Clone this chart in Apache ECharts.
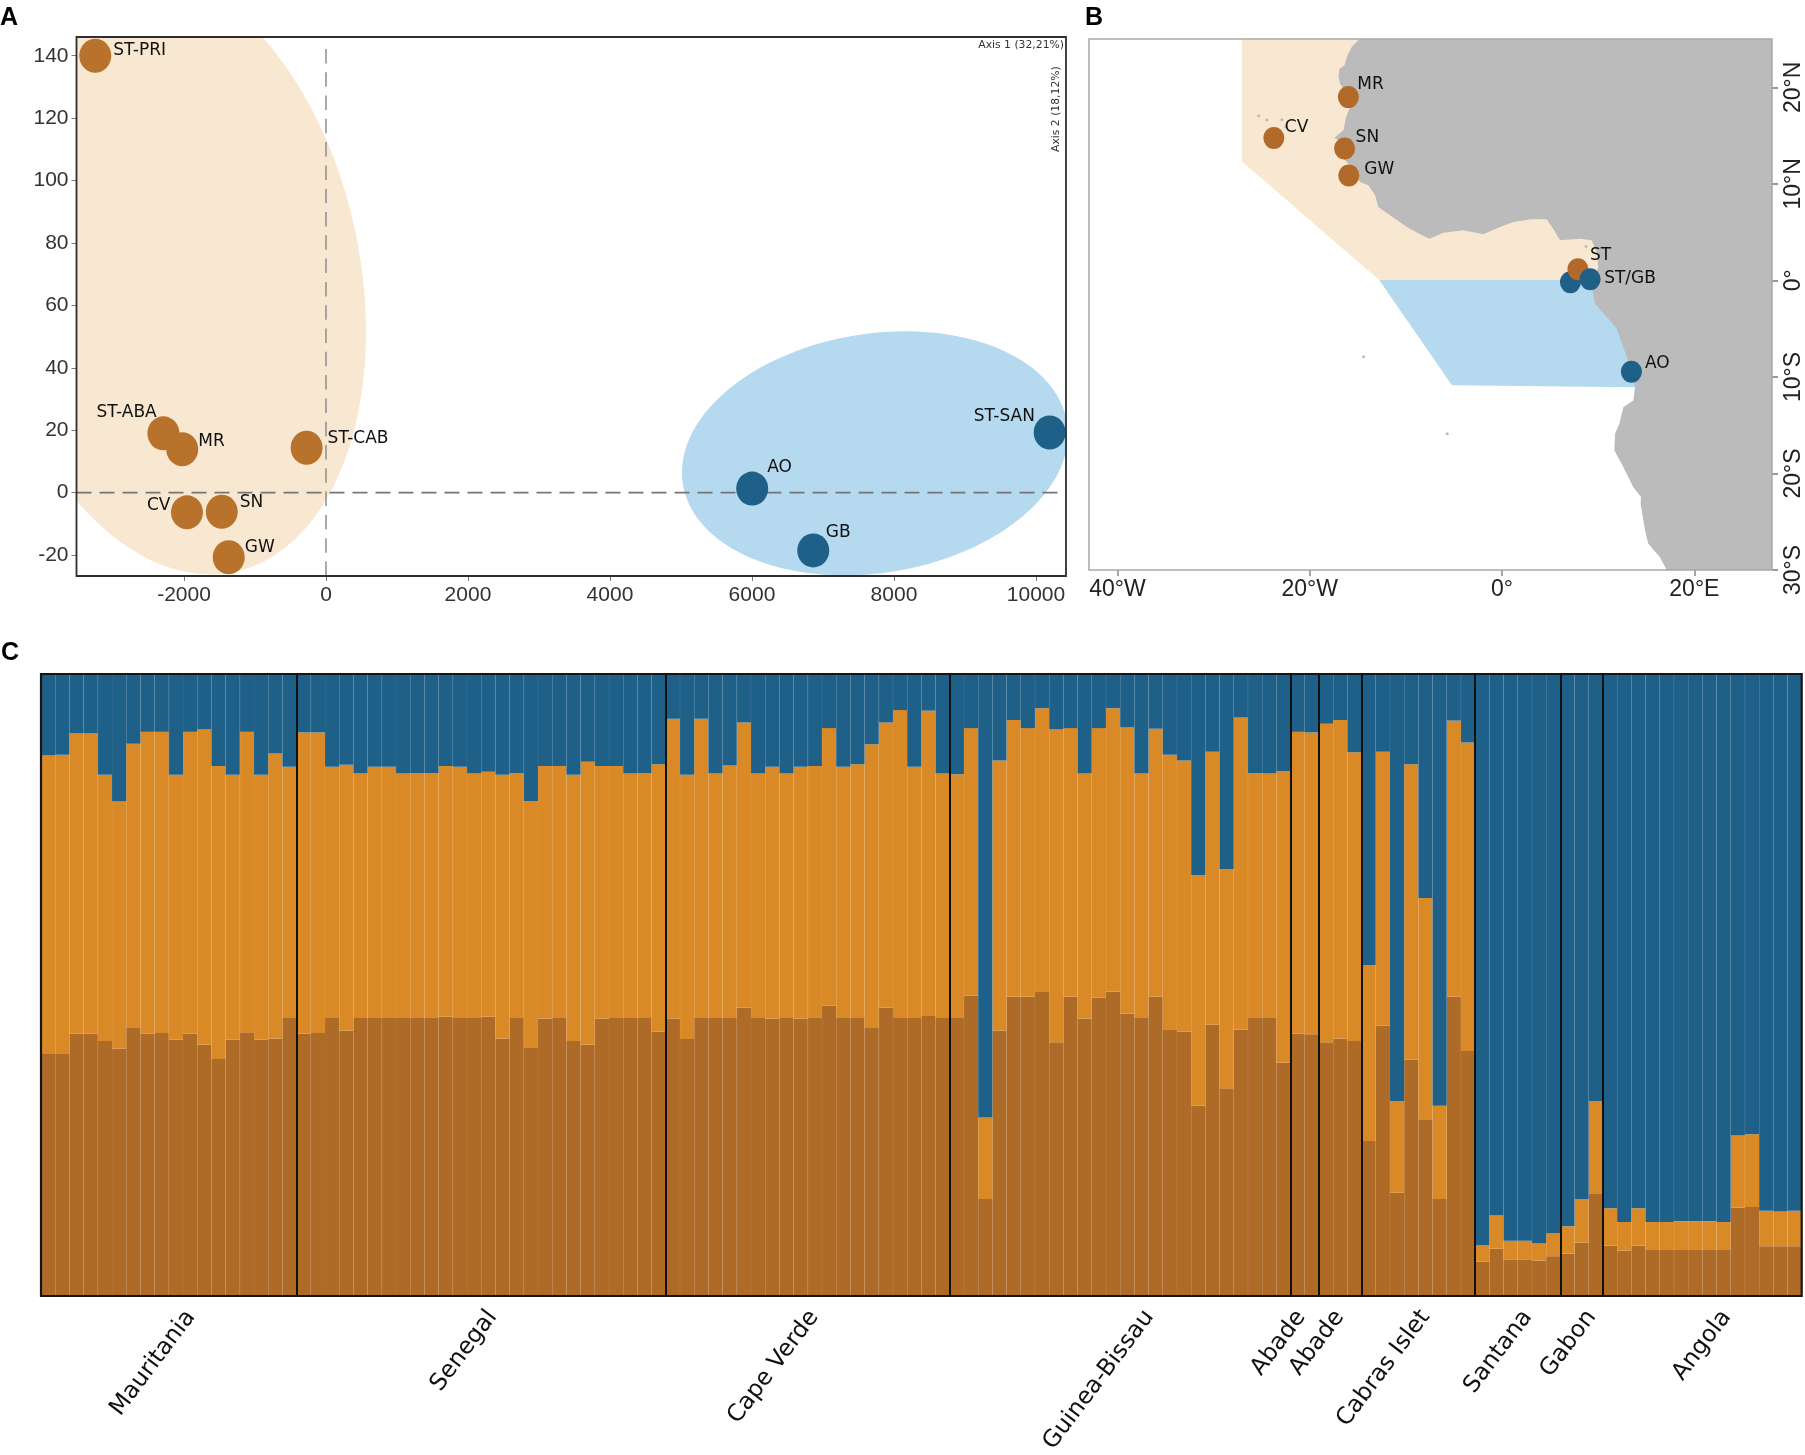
<!DOCTYPE html>
<html><head><meta charset="utf-8">
<script src="https://cdn.jsdelivr.net/npm/echarts@6/dist/echarts.min.js"></script>
<style>html,body{margin:0;padding:0;background:#fff}#c{width:1805px;height:1455px}</style>
</head><body><div id="c"></div>
<script>
// ---------- Panel A: PCA ----------
const pcaBrownNames = ['ST-PRI','ST-ABA','MR','ST-CAB','CV','SN','GW'];
const pcaBrownX = [-3250,-2290,-2025,-273,-1958,-1468,-1370];
const pcaBrownY = [140,19,13.9,14.4,-6.3,-6.1,-20.7];
const pcaBlueNames = ['AO','GB','ST-SAN'];
const pcaBlueX = [6003,6863,10193];
const pcaBlueY = [1.3,-18.5,19.3];
const pcaXTicks = [-2000,0,2000,4000,6000,8000,10000];
const pcaYTicks = [-20,0,20,40,60,80,100,120,140];
// cx, cy, x half-extent, y half-extent, tilt phase (degrees)
const pcaBrownEllipse = [-2175,70.9,2738,97.1,11.5];
const pcaBlueEllipse = [7732,12.6,2718,39.1,-9];

// ---------- Panel B: map (lon, lat) ----------
const landOutline = [[-14.83,25],[-15.63,24.18],[-16.08,23.32],[-16.39,22.28],[-16.91,21.93],[-17.01,21.07],[-16.84,20.38],[-16.32,19.52],[-15.8,17.96],[-16.22,16.93],[-16.49,15.54],[-17.46,14.75],[-16.49,14.33],[-16.67,12.78],[-15.63,11.74],[-14.76,10.19],[-13.9,9.84],[-13.2,8.81],[-12.86,7.6],[-11.64,6.74],[-9.91,5.53],[-8.52,4.77],[-7.56,4.32],[-6.1,4.94],[-4.02,5.18],[-1.94,4.77],[-0.21,5.53],[1.18,6.04],[3.08,6.32],[4.64,6.32],[5.41,5.18],[6.03,4.15],[8.11,4.32],[9.32,4.15],[9.84,2.94],[10.01,1.38],[9.32,-0.69],[9.67,-2.42],[11.23,-4.15],[11.92,-5.01],[12.61,-6.91],[13.31,-8.98],[13.83,-11.05],[13.65,-12.44],[12.61,-13.13],[12.2,-14.85],[11.75,-15.89],[11.68,-17.62],[12.44,-19],[13.65,-21.42],[14.45,-22.45],[14.41,-23.14],[14.87,-25.91],[15.21,-27.29],[16.42,-28.67],[17.12,-30],[28.07,-30],[28.07,25]];
const northZone = [[-27.05,25],[-10.82,25],[-10.82,7.7],[10.62,7.7],[10.62,0.05],[-12.77,0.05],[-27.05,12.3]];
const southZone = [[-12.77,0.05],[11.11,0.05],[15.01,-7.87],[13.83,-11.07],[-5.21,-10.86]];
const islands = [[-25.3,17.05],[-24.46,16.6],[-22.9,16.64],[-22.5,15.9],[8.73,3.52],[-14.4,-7.9],[-5.7,-15.9]];
const siteNames = ['MR','CV','SN','GW','','ST','ST/GB','AO'];
const siteLon = [-15.98,-23.73,-16.37,-15.93,7.11,7.89,9.16,13.45];
const siteLat = [18.98,14.75,13.65,10.86,-0.2,1.15,0.12,-9.47];
const siteGroup = [0,0,0,0,1,0,1,1];
const lonTicks = [-40,-20,0,20];
const lonLabels = ['40°W','20°W','0°','20°E'];
const latTicks = [20,10,0,-10,-20,-30];
const latLabels = ['20°N','10°N','0°','10°S','20°S','30°S'];

// ---------- Panel C: ancestry bars ----------
const groupNames = ['Mauritania','Senegal','Cape Verde','Guinea-Bissau','Abade','Abade','Cabras Islet','Santana','Gabon','Angola'];
const groupSizes = [18,26,20,24,2,3,8,6,3,14];
const groupLabelAt = [10.55,31.8,54.45,78.05,88.75,91.45,97.5,104.7,109.2,118.7];
const brownShare = [
 38.9,38.9,42.2,42.2,41.0,39.8,43.2,42.2,42.3,41.2,42.2,40.4,38.1,41.2,42.4,41.2,41.4,44.8,
 42.2,42.3,44.7,42.7,44.7,44.7,44.7,44.7,44.7,44.8,44.9,44.7,44.7,44.9,41.4,44.8,40.0,44.6,44.7,41.0,40.4,44.6,44.7,44.7,44.7,42.5,
 44.6,41.3,44.7,44.7,44.8,46.4,44.8,44.6,44.7,44.6,44.8,46.7,44.7,44.8,43.1,46.4,44.8,44.7,45.0,44.7,
 44.7,48.3,15.6,42.7,48.1,48.1,49.0,40.8,48.1,44.6,48.0,48.9,45.4,44.8,48.1,42.9,42.5,30.6,43.6,33.4,42.8,44.8,44.7,37.5,
 42.2,42.1,
 40.8,41.4,41.0,
 24.9,43.5,16.6,38.0,28.4,15.6,48.1,39.4,
 5.5,7.6,5.9,5.9,5.7,6.4,
 6.8,8.6,16.5,
 8.1,7.3,8.1,7.4,7.4,7.4,7.4,7.4,7.4,14.2,14.3,8.0,8.0,8.0];
const brownPlusOrange = [
 86.9,87.0,90.5,90.5,83.8,79.5,88.8,90.7,90.7,83.8,90.7,91.1,85.2,83.8,90.7,83.8,87.2,85.1,
 90.6,90.6,85.1,85.4,84.0,85.1,85.1,84.0,84.1,84.1,85.2,85.1,84.0,84.3,83.8,84.1,79.6,85.2,85.2,83.8,85.9,85.2,85.2,84.0,84.1,85.5,
 92.8,83.8,92.8,84.0,85.3,92.2,84.0,85.1,84.0,85.1,85.2,91.3,85.1,85.5,88.7,92.2,94.2,85.1,94.1,84.0,
 83.9,91.3,28.7,86.1,92.6,91.3,94.5,91.1,91.3,84.0,91.3,94.5,91.4,84.0,91.2,87.0,86.1,67.7,87.5,68.6,93.0,84.1,84.0,84.4,
 90.7,90.6,
 92.0,92.6,87.4,
 53.2,87.5,31.3,85.5,64.0,30.6,92.5,89.0,
 8.1,13.0,8.9,8.9,8.5,10.1,
 11.2,15.6,31.3,
 14.1,11.9,14.1,11.9,11.9,12.0,12.0,12.0,11.9,25.8,26.0,13.7,13.6,13.7];

// ---------- Styling ----------
const BLUE='#1f6088', ORANGE='#d98a27', BROWN='#ae6a27', DOT='#b8722b', DOT_B='#b26a2a';
const PALE_O='#f8e8d2', PALE_B='#b5d9ef', LAND='#bcbbbb';
const SANS='"Liberation Sans",Arial,sans-serif', DJ='"DejaVu Sans",sans-serif';
const gridA={left:76.5,top:37,width:989.5,height:539};
const gridB={left:1089,top:39,width:683,height:531};
const gridC={left:41,top:674,width:1760.7,height:622};

const offsA={'ST-PRI':[18,-5],'ST-ABA':[-67,-21],'MR':[16,-8],'ST-CAB':[21,-9.5],'CV':[-40,-7],'SN':[18,-9],'GW':[16,-9.5],'AO':[15,-21],'GB':[12.5,-18],'ST-SAN':[-76,-16]};
const offsB={'MR':[9,-13],'CV':[11,-10],'SN':[11,-11],'GW':[15.5,-6],'ST':[12,-14],'ST/GB':[14,-1],'AO':[13.5,-8.5],'':[0,0]};

function pointItem(name,x,y,color,offs){
  return {name,value:[x,y],itemStyle:{color,opacity:1},
    label:{show:!!name,formatter:name,position:'inside',align:'left',verticalAlign:'middle',offset:offs[name],
      color:'#111',fontFamily:DJ,fontSize:17}};
}
function polygonSeries(points,color,z){
  return {type:'custom',xAxisIndex:1,yAxisIndex:1,z,clip:true,silent:true,data:points,encode:{x:0,y:1},
    renderItem(p,api){
      if(p.dataIndex!==0) return null;
      return {type:'polygon',shape:{points:points.map(q=>api.coord(q))},style:{fill:color}};
    }};
}
function ellipseSeries(e,color){
  return {type:'custom',xAxisIndex:0,yAxisIndex:0,z:1,clip:true,silent:true,data:[e],encode:{x:0,y:1},
    renderItem(p,api){
      const [cx,cy,a,b,d]=[0,1,2,3,4].map(i=>api.value(i)), pts=[];
      for(let i=0;i<180;i++){const t=i*2*Math.PI/180;
        pts.push(api.coord([cx+a*Math.cos(t),cy-b*Math.sin(t+d*Math.PI/180)]));}
      return {type:'polygon',shape:{points:pts},style:{fill:color}};
    }};
}
function dashLine(data,width,dash,color){
  return {type:'line',xAxisIndex:0,yAxisIndex:0,z:2,symbol:'none',silent:true,data,
    lineStyle:{color,width,type:dash}};
}
const XMIN=-3514,XMAX=10423,YMIN=-26.7,YMAX=146;
const groupEdges=groupSizes.reduce((a,n)=>{a.push(a[a.length-1]+n);return a;},[0]);
const categories=[];groupNames.forEach((g,i)=>{for(let k=1;k<=groupSizes[i];k++)categories.push(g+' '+k);});
const orangeShare=brownPlusOrange.map((v,i)=>+(v-brownShare[i]).toFixed(1));
const blueShare=brownPlusOrange.map(v=>+(100-v).toFixed(1));
function barSeries(name,data,color){
  return {type:'bar',name,stack:'k',xAxisIndex:2,yAxisIndex:2,data,barWidth:'100%',barCategoryGap:0,silent:true,
    itemStyle:{color,borderWidth:0}};
}
function verticalRules(values,color,width,z){
  return {type:'line',xAxisIndex:3,yAxisIndex:2,z,symbol:'none',silent:true,data:[],
    markLine:{silent:true,symbol:'none',z,label:{show:false},animation:false,
      lineStyle:{color,width,type:'solid'},data:values.map(v=>({xAxis:v}))}};
}
const tinyAxis={color:'#333',fontFamily:SANS,fontSize:21};
const barEdges=categories.map((c,i)=>i).slice(1);

const option={
  backgroundColor:'#fff',animation:false,
  grid:[
    {...gridA,show:false,outerBoundsMode:'none'},
    {...gridB,show:false,outerBoundsMode:'none'},
    {...gridC,show:false,outerBoundsMode:'none'}
  ],
  xAxis:[
    {type:'value',gridIndex:0,min:XMIN,max:XMAX,splitLine:{show:false},axisLine:{show:false,onZero:false},
     axisTick:{show:true,length:5,lineStyle:{color:'#777'},customValues:pcaXTicks},
     axisLabel:{...tinyAxis,margin:9,customValues:pcaXTicks,formatter:v=>String(v)}},
    {type:'value',gridIndex:1,min:-42.95,max:28.07,splitLine:{show:false},axisLine:{show:false,onZero:false},
     axisTick:{show:true,length:6,lineStyle:{color:'#888',width:1.5},customValues:lonTicks},
     axisLabel:{color:'#222',fontFamily:SANS,fontSize:23,margin:8,customValues:lonTicks,
       formatter:v=>lonLabels[lonTicks.indexOf(v)]}},
    {type:'category',gridIndex:2,data:categories,boundaryGap:true,axisLine:{show:false,onZero:false},axisTick:{show:false},axisLabel:{show:false},splitLine:{show:false}},
    {type:'value',gridIndex:2,min:0,max:124,position:'bottom',splitLine:{show:false},axisLine:{show:false,onZero:false},axisTick:{show:false},
     axisLabel:{color:'#111',fontFamily:DJ,fontSize:23.5,rotate:53,margin:17,customValues:groupLabelAt,
       formatter:v=>groupNames[groupLabelAt.indexOf(v)]}}
  ],
  yAxis:[
    {type:'value',gridIndex:0,min:YMIN,max:YMAX,splitLine:{show:false},axisLine:{show:false,onZero:false},
     axisTick:{show:true,length:5,lineStyle:{color:'#777'},customValues:pcaYTicks},
     axisLabel:{...tinyAxis,margin:8,customValues:pcaYTicks,formatter:v=>String(v)}},
    {type:'value',gridIndex:1,position:'right',min:-30,max:25,splitLine:{show:false},axisLine:{show:false,onZero:false},
     axisTick:{show:true,length:6,lineStyle:{color:'#777',width:1.5},customValues:latTicks},
     axisLabel:{color:'#222',fontFamily:SANS,fontSize:23,rotate:90,margin:10,customValues:latTicks,
       formatter:v=>latLabels[latTicks.indexOf(v)]}},
    {type:'value',gridIndex:2,min:0,max:100,show:false}
  ],
  series:[
    ellipseSeries(pcaBrownEllipse,PALE_O),
    ellipseSeries(pcaBlueEllipse,PALE_B),
    dashLine([[0,YMIN],[0,YMAX-1]],1.4,[14.5,8.8],'#858585'),
    dashLine([[XMIN,0],[XMAX-85,0]],1.8,[15,8],'#757575'),
    {type:'scatter',xAxisIndex:0,yAxisIndex:0,z:3,symbol:'circle',symbolSize:[32,34],silent:true,
     data:pcaBrownNames.map((n,i)=>pointItem(n,pcaBrownX[i],pcaBrownY[i],DOT,offsA))},
    {type:'scatter',xAxisIndex:0,yAxisIndex:0,z:3,symbol:'circle',symbolSize:[32,34],silent:true,clip:false,
     data:pcaBlueNames.map((n,i)=>pointItem(n,pcaBlueX[i],pcaBlueY[i],BLUE,offsA))},

    polygonSeries(northZone,PALE_O,1),
    polygonSeries(southZone,PALE_B,1),
    polygonSeries(landOutline,LAND,2),
    {type:'scatter',xAxisIndex:1,yAxisIndex:1,z:2,symbolSize:3,silent:true,data:islands,itemStyle:{color:LAND,opacity:1}},
    {type:'scatter',xAxisIndex:1,yAxisIndex:1,z:3,symbol:'circle',symbolSize:[21,22],silent:true,
     data:siteNames.map((n,i)=>pointItem(n,siteLon[i],siteLat[i],siteGroup[i]?BLUE:DOT_B,offsB))},

    barSeries('Cluster 1',brownShare,BROWN),
    barSeries('Cluster 2',orangeShare,ORANGE),
    barSeries('Cluster 3',blueShare,BLUE),
    verticalRules(barEdges,'rgba(255,255,255,0.05)',0.8,5),
    verticalRules(groupEdges.slice(1,-1),'#111',2,6)
  ],
  graphic:[
    {type:'text',left:0,top:6,z:50,style:{text:'A',font:'bold 25px '+SANS,fill:'#000'}},
    {type:'text',left:1085,top:6,z:50,style:{text:'B',font:'bold 25px '+SANS,fill:'#000'}},
    {type:'text',left:1,top:641,z:50,style:{text:'C',font:'bold 25px '+SANS,fill:'#000'}},
    {type:'text',right:1805-1064,top:40,z:50,style:{text:'Axis 1 (32,21%)',font:'10.8px '+DJ,fill:'#333'}},
    {type:'text',x:1051,y:152,rotation:Math.PI/2,z:50,style:{text:'Axis 2 (18,12%)',font:'10.8px '+DJ,fill:'#333'}},
    {type:'rect',z:40,shape:{x:gridA.left,y:gridA.top,width:gridA.width,height:gridA.height},style:{fill:'none',stroke:'#2e2e2e',lineWidth:1.8}},
    {type:'rect',z:40,shape:{x:gridB.left,y:gridB.top,width:gridB.width,height:gridB.height},style:{fill:'none',stroke:'#a8a8a8',lineWidth:1.5}},
    {type:'rect',z:40,shape:{x:gridC.left,y:gridC.top,width:gridC.width,height:gridC.height},style:{fill:'none',stroke:'#161616',lineWidth:2.2}}
  ]
};
const chart=echarts.init(document.getElementById('c'),null,{renderer:'canvas',width:1805,height:1455});
chart.setOption(option);
</script></body></html>
